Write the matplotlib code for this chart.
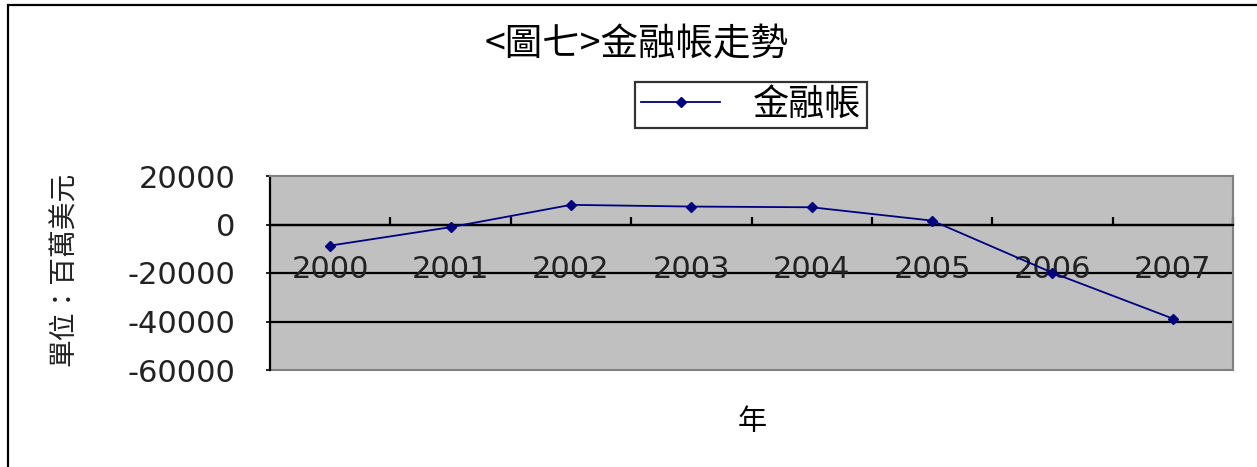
import matplotlib
matplotlib.use('Agg')
import matplotlib.pyplot as plt
from matplotlib.patches import Rectangle
import numpy as np

plt.rcParams['font.family'] = ['DejaVu Sans', 'Noto Sans CJK TC']
cjk = ['Noto Sans CJK TC', 'DejaVu Sans']

years = ['2000', '2001', '2002', '2003', '2004', '2005', '2006', '2007']
values = [-8700, -1100, 8100, 7400, 7100, 1600, -19900, -38800]
series_name = '金融帳'
title = '<圖七>金融帳走勢'
xlabel = '年'
ylabel = '單位：百萬美元'
yticks = [20000, 0, -20000, -40000, -60000]

W, H = 1257, 467
fig = plt.figure(figsize=(W / 100, H / 100), dpi=100)

# plot area in pixels: x 270..1233, y 176..370
ax = fig.add_axes([270 / W, 1 - 370 / H, (1233 - 270) / W, (370 - 176) / H])
ax.set_facecolor('#C0C0C0')

xs = np.arange(1, len(years) + 1)
ax.plot(xs, values, color='#000080', linewidth=1.3, marker='D', markersize=5,
        label=series_name, zorder=4, clip_on=False)

ax.set_xlim(0.5, len(years) + 0.5)
ax.set_ylim(-60000, 20000)

# gridlines
for v in yticks[1:-1]:
    ax.axhline(v, color='black', linewidth=1.6, zorder=1)

# category axis crossing at zero, ticks between categories
ax.spines['bottom'].set_position(('data', 0))
ax.spines['bottom'].set_color('black')
ax.spines['bottom'].set_linewidth(1.6)
ax.set_xticks(xs)
ax.set_xticklabels(years, fontsize=22, color='#222222')
ax.tick_params(axis='x', which='major', length=0, pad=22)
ax.set_xticks(np.arange(1.5, len(years) + 0.6, 1), minor=True)
ax.tick_params(axis='x', which='minor', direction='in', length=6, width=1.6, color='black')

ax.set_yticks(yticks)
ax.set_yticklabels([str(v) for v in yticks], fontsize=22, color='#222222')
ax.tick_params(axis='y', which='major', direction='out', length=3, width=1.2, pad=22)

ax.spines['left'].set_color('black')
ax.spines['left'].set_linewidth(1.6)
for s in ['top', 'right']:
    ax.spines[s].set_color('#808080')
    ax.spines[s].set_linewidth(1.5)
ax.plot([0, 1], [0, 0], transform=ax.transAxes, color='#808080', linewidth=1.5, clip_on=False)

fig.text(637 / W, 1 - 45 / H, title, fontsize=27, family=cjk, ha='center', va='center')
fig.text(752 / W, 1 - 422 / H, xlabel, fontsize=21, family=cjk, ha='center', va='center')
fig.text(64 / W, 1 - 269 / H, ylabel, fontsize=20, family=cjk, ha='center', va='center',
         rotation=90, color='#222222')

leg = ax.legend(loc='center', bbox_to_anchor=(751 / W, 1 - 105 / H), bbox_transform=fig.transFigure,
                frameon=True, fancybox=False, shadow=False, prop={'family': cjk, 'size': 26},
                handlelength=2.2, borderpad=0.15, handletextpad=0.9, borderaxespad=0)
leg.get_frame().set_edgecolor('black')
leg.get_frame().set_linewidth(1.6)

fig.add_artist(Rectangle((8 / W, -0.1), 1.5, 1.1 - 5 / H, transform=fig.transFigure,
                         fill=False, edgecolor='black', linewidth=1.6))

fig.savefig('out.png', dpi=100, facecolor='white')
